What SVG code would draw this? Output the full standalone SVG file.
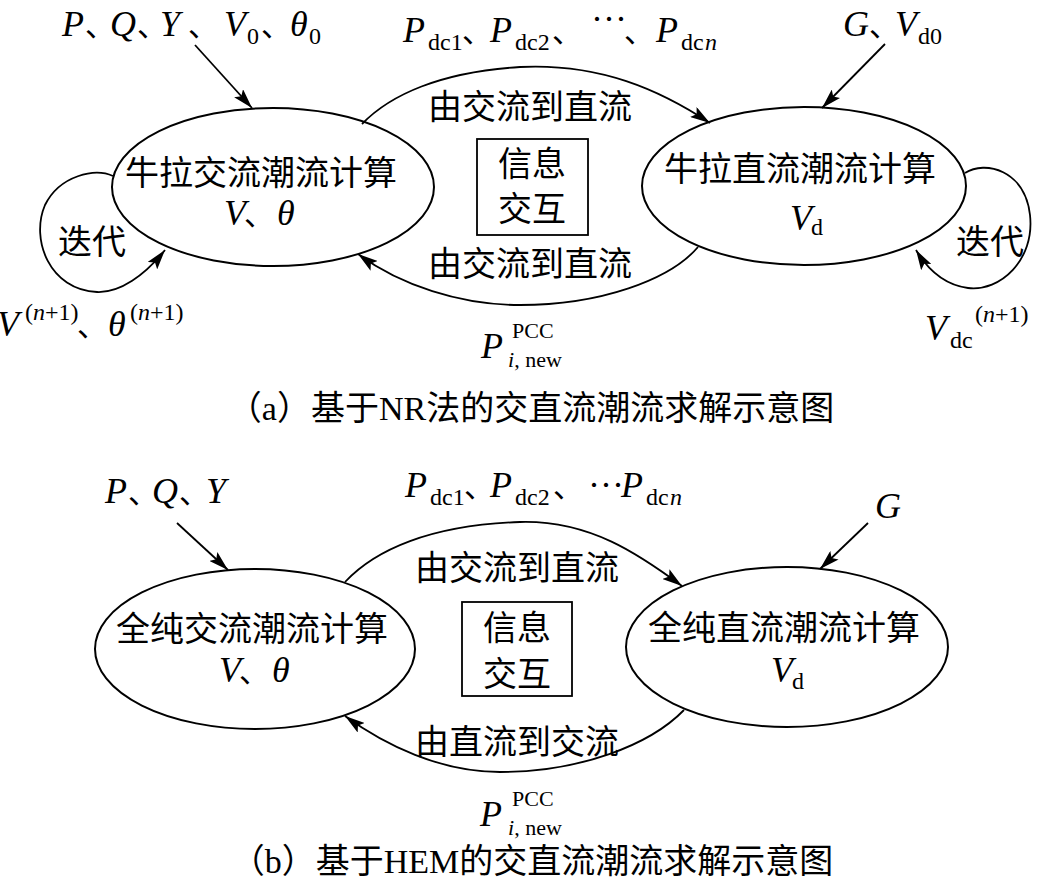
<svg xmlns="http://www.w3.org/2000/svg" width="1041" height="881" viewBox="0 0 1041 881">
<style>
.el{fill:none;stroke:#000;stroke-width:2}
.bx{fill:none;stroke:#000;stroke-width:1.8}
.ln{fill:none;stroke:#000;stroke-width:1.8;marker-end:url(#ah)}
.cj{font-family:"Noto Sans CJK SC",sans-serif;font-size:34px;fill:#000}
.mt{font-family:"Liberation Serif","Noto Sans CJK SC",serif;font-size:36px;fill:#000}
.it{font-style:italic}
.sb{font-size:24px;font-style:normal}
.sp{font-size:22px;font-style:normal}
.pu{font-family:"Noto Sans CJK SC",sans-serif;font-size:30px;font-style:normal}
.cap{font-family:"Liberation Serif","Noto Sans CJK SC",serif;font-size:34px;fill:#000}
</style>
<defs>
<marker id="ah" markerUnits="userSpaceOnUse" markerWidth="20" markerHeight="12" refX="20" refY="6" orient="auto">
<path d="M0,0 L20,6 L0,12 L4,6 z" fill="#000"/>
</marker>
</defs>
<rect width="1041" height="881" fill="#fff"/>

<!-- Part (a) -->
<g id="node-ac-nr">
<ellipse class="el" cx="273" cy="187" rx="161" ry="79"/>
<text class="cj" x="261" y="185" text-anchor="middle">牛拉交流潮流计算</text>
<text class="mt" y="225"><tspan class="it" x="224">V</tspan><tspan class="pu" x="244">、</tspan><tspan class="it" x="277">θ</tspan></text>
</g>
<g id="node-dc-nr">
<ellipse class="el" cx="804" cy="186" rx="162" ry="79"/>
<text class="cj" x="800" y="181" text-anchor="middle">牛拉直流潮流计算</text>
<text class="mt" y="230"><tspan class="it" x="790">V</tspan><tspan class="sb" x="811" y="235">d</tspan></text>
</g>
<g id="node-info-a">
<rect class="bx" x="477" y="139" width="111" height="96"/>
<text class="cj" x="532" y="176" text-anchor="middle">信息</text>
<text class="cj" x="532" y="221" text-anchor="middle">交互</text>
</g>
<g id="labels-a">
<text class="mt" y="36"><tspan class="it" x="62">P</tspan><tspan class="pu" x="85">、</tspan><tspan class="it" x="110">Q</tspan><tspan class="pu" x="137">、</tspan><tspan class="it" x="160">Y</tspan><tspan class="pu" x="188">、</tspan><tspan class="it" x="224">V</tspan><tspan class="sb" x="247" y="44">0</tspan><tspan class="pu" x="261" y="36">、</tspan><tspan class="it" x="290">θ</tspan><tspan class="sb" x="309" y="44">0</tspan></text>
<text class="mt" y="42"><tspan class="it" x="403">P</tspan><tspan class="sb" x="428" y="50">dc1</tspan><tspan class="pu" x="462" y="42">、</tspan><tspan class="it" x="490">P</tspan><tspan class="sb" x="515" y="50">dc2</tspan><tspan class="pu" x="552" y="42">、</tspan><tspan x="591" y="31">···</tspan><tspan class="pu" x="624" y="42">、</tspan><tspan class="it" x="656">P</tspan><tspan class="sb" x="681" y="50">dc</tspan><tspan class="sb" x="705" y="50" style="font-style:italic">n</tspan></text>
<text class="mt" y="36"><tspan class="it" x="843">G</tspan><tspan class="pu" x="869">、</tspan><tspan class="it" x="895">V</tspan><tspan class="sb" x="918" y="44">d0</tspan></text>
<text class="cj" x="530" y="119" text-anchor="middle">由交流到直流</text>
<text class="cj" x="530" y="276" text-anchor="middle">由交流到直流</text>
<text class="cj" x="92" y="254" text-anchor="middle">迭代</text>
<text class="cj" x="990" y="254" text-anchor="middle">迭代</text>
<text class="mt" y="336"><tspan class="it" x="-3">V</tspan><tspan class="sb" x="25" y="320">(</tspan><tspan class="sb" style="font-style:italic">n</tspan><tspan class="sb">+1)</tspan><tspan class="pu" x="77" y="336">、</tspan><tspan class="it" x="108">θ</tspan><tspan class="sb" x="130" y="320">(</tspan><tspan class="sb" style="font-style:italic">n</tspan><tspan class="sb">+1)</tspan></text>
<text class="mt" y="340"><tspan class="it" x="925">V</tspan><tspan class="sb" x="950" y="348">dc</tspan><tspan class="sb" x="975" y="322">(</tspan><tspan class="sb" style="font-style:italic">n</tspan><tspan class="sb">+1)</tspan></text>
<text class="mt" y="358"><tspan class="it" x="481">P</tspan><tspan class="sp" x="512" y="338">PCC</tspan><tspan class="sp" x="508" y="367" style="font-style:italic">i</tspan><tspan class="sp">, new</tspan></text>
<text class="cap" x="531" y="420" text-anchor="middle">（a）基于NR法的交直流潮流求解示意图</text>
</g>

<!-- Part (b) -->
<g id="node-ac-hem">
<ellipse class="el" cx="255" cy="649" rx="160" ry="80"/>
<text class="cj" x="252" y="641" text-anchor="middle">全纯交流潮流计算</text>
<text class="mt" y="682"><tspan class="it" x="219">V</tspan><tspan class="pu" x="239">、</tspan><tspan class="it" x="272">θ</tspan></text>
</g>
<g id="node-dc-hem">
<ellipse class="el" cx="787" cy="647" rx="161" ry="80"/>
<text class="cj" x="784" y="640" text-anchor="middle">全纯直流潮流计算</text>
<text class="mt" y="682"><tspan class="it" x="771">V</tspan><tspan class="sb" x="792" y="689">d</tspan></text>
</g>
<g id="node-info-b">
<rect class="bx" x="462" y="602" width="110" height="94"/>
<text class="cj" x="517" y="640" text-anchor="middle">信息</text>
<text class="cj" x="517" y="686" text-anchor="middle">交互</text>
</g>
<g id="labels-b">
<text class="mt" y="503"><tspan class="it" x="105">P</tspan><tspan class="pu" x="128">、</tspan><tspan class="it" x="152">Q</tspan><tspan class="pu" x="179">、</tspan><tspan class="it" x="206">Y</tspan></text>
<text class="mt" y="497"><tspan class="it" x="405">P</tspan><tspan class="sb" x="430" y="505">dc1</tspan><tspan class="pu" x="464" y="497">、</tspan><tspan class="it" x="490">P</tspan><tspan class="sb" x="515" y="505">dc2</tspan><tspan class="pu" x="553" y="497">、</tspan><tspan x="588" y="497">···</tspan><tspan class="it" x="621">P</tspan><tspan class="sb" x="646" y="505">dc</tspan><tspan class="sb" x="670" y="505" style="font-style:italic">n</tspan></text>
<text class="mt" x="875" y="518"><tspan class="it">G</tspan></text>
<text class="cj" x="517" y="580" text-anchor="middle">由交流到直流</text>
<text class="cj" x="517" y="754" text-anchor="middle">由直流到交流</text>
<text class="mt" y="826"><tspan class="it" x="480">P</tspan><tspan class="sp" x="512" y="806">PCC</tspan><tspan class="sp" x="508" y="835" style="font-style:italic">i</tspan><tspan class="sp">, new</tspan></text>
<text class="cap" x="532" y="873" text-anchor="middle">（b）基于HEM的交直流潮流求解示意图</text>
</g>

<g id="connectors">
<!-- (a) -->
<path class="ln" d="M195,45 L252,108"/>
<path class="ln" d="M885,44 L822,108"/>
<path class="ln" d="M362,124 C390,95 440,72 520,67 C600,63 660,90 710,123"/>
<path class="ln" d="M698,247 C670,280 600,305 520,305 C460,305 400,285 358,254"/>
<path class="ln" d="M113,176 C95,168 60,175 45,205 C30,240 50,290 97,292 C120,293 145,275 165,250"/>
<path class="ln" d="M965,173 C985,160 1025,170 1030,215 C1035,260 1000,292 968,288 C945,285 928,270 916,250"/>
<!-- (b) -->
<path class="ln" d="M177,523 L228,570"/>
<path class="ln" d="M868,523 L820,569"/>
<path class="ln" d="M345,582 C375,550 430,525 520,522 C590,520 640,555 682,586"/>
<path class="ln" d="M684,710 C650,745 580,772 500,772 C440,772 385,745 345,716"/>
</g>
</svg>
